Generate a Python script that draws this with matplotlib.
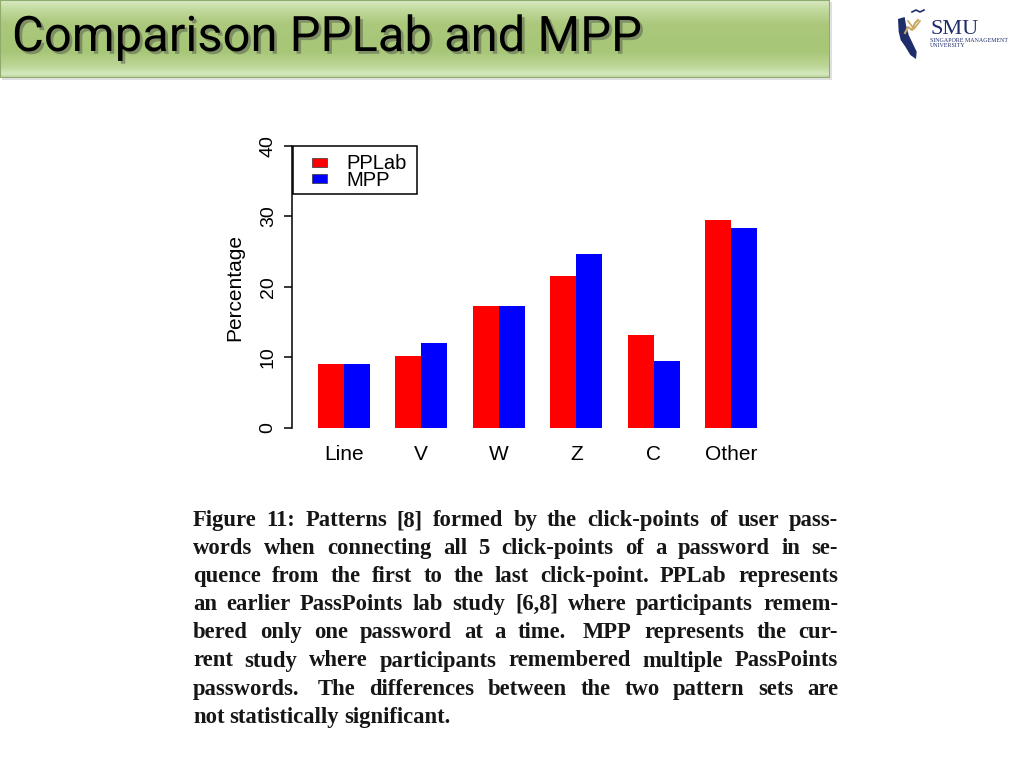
import re

import numpy as np
import matplotlib
matplotlib.use("Agg")
from matplotlib import pyplot as plt
from matplotlib import patheffects as pe
from matplotlib.patches import Rectangle, Polygon
from matplotlib.colors import LinearSegmentedColormap


# data
categories = ["Line", "V", "W", "Z", "C", "Other"]
pplab = [9.0, 10.2, 17.3, 21.5, 13.2, 29.5]
mpp = [9.0, 12.1, 17.3, 24.6, 9.5, 28.3]
y_ticks = [0, 10, 20, 30, 40]
series_names = ["PPLab", "MPP"]
series_colors = ["#ff0000", "#0000ff"]

title = "Comparison PPLab and MPP"
caption_lines = [
    "Figure 11: Patterns [8] formed by the click-points of user pass-",
    "words when connecting all 5 click-points of a password in se-",
    "quence from the first to the last click-point. PPLab represents",
    "an earlier PassPoints lab study [6,8] where participants remem-",
    "bered only one password at a time.  MPP represents the cur-",
    "rent study where participants remembered multiple PassPoints",
    "passwords.  The differences between the two pattern sets are",
    "not statistically significant.",
]

W, H = 1024, 768


def fx(px):
    return px / W


def fy(py):
    return 1 - py / H


def box(l, t, r, b):
    return [l / W, 1 - b / H, (r - l) / W, (b - t) / H]


def px_rect(l, t, r, b, **kw):
    fig.add_artist(Rectangle((fx(l), fy(b)), (r - l) / W, (b - t) / H,
                             transform=fig.transFigure, **kw))


plt.rcParams["font.family"] = ["Liberation Sans", "DejaVu Sans"]
fig = plt.figure(figsize=(10.24, 7.68), dpi=100)
renderer = fig.canvas.get_renderer()

# ---- title banner ----
px_rect(2, 2, 832, 80, facecolor="#9a9a9a", edgecolor="none", alpha=0.3, zorder=-2)
tax = fig.add_axes(box(0, 0, 830, 78))
grad = LinearSegmentedColormap.from_list("banner", [
    (0.0, "#d9e9c3"), (0.12, "#c2da9e"), (0.3, "#abc87c"),
    (0.65, "#a7c676"), (0.85, "#bcd697"), (0.95, "#d5e8be"), (1.0, "#b9d29a")])
tax.imshow(np.linspace(0, 1, 200).reshape(-1, 1), cmap=grad, aspect="auto")
tax.set_axis_off()
tax.add_patch(Rectangle((0, 0), 1, 1, transform=tax.transAxes, fill=False,
                        edgecolor="#8fac6c", lw=1.5))

t = fig.text(fx(12), fy(51), title, fontsize=36, family="Roboto", va="baseline",
             color="black", zorder=5,
             path_effects=[pe.withSimplePatchShadow(offset=(2, -2),
                                                    shadow_rgbFace="#4a4a4a",
                                                    alpha=0.45)])
tw = t.get_window_extent(renderer).width
t.set_fontsize(36 * 630 / tw)

# ---- SMU logo ----
lax = fig.add_axes(box(890, 5, 1015, 65))
lax.set_xlim(0, 125)
lax.set_ylim(60, 0)
lax.set_axis_off()
zx = np.array([18, 38, 42, 50, 62, 74, 72, 55, 40, 26, 20]) / 3
zy = np.array([42, 36, 60, 90, 115, 140, 162, 150, 125, 105, 80]) / 3
lax.add_patch(Polygon(np.column_stack([zx + 2, zy]), closed=True,
                      facecolor="#1f2d6b", edgecolor="none"))
lax.plot([15, 18, 22, 25, 28], [28, 22, 25, 18, 15], color="#c8a860", lw=1.5)
lax.plot([18, 24, 30], [16, 24, 16], color="#c8a860", lw=1.2)
lax.plot([22, 26, 30, 34], [7, 5, 7, 5], color="#1f2d6b", lw=1.2)
lax.text(40, 29.5, "SMU", family="Liberation Serif", fontsize=16,
         color="#1f2d6b", va="baseline")
lax.text(40, 37.5, "SINGAPORE MANAGEMENT", family="Liberation Serif",
         fontsize=4.3, color="#1f2d6b", va="baseline")
lax.text(40, 42.2, "UNIVERSITY", family="Liberation Serif",
         fontsize=4.3, color="#1f2d6b", va="baseline")

# ---- bar chart ----
ax = fig.add_axes(box(292, 145.7, 783, 428))
x = np.arange(len(categories))
left_red = 1 + 3 * x  # R barplot(beside=TRUE) layout: gap 1, two bars of width 1
ax.bar(left_red + 0.5, pplab, width=1, color=series_colors[0], linewidth=0)
ax.bar(left_red + 1.5, mpp, width=1, color=series_colors[1], linewidth=0)
ax.set_xlim(0.0, 19.0)
ax.set_ylim(0, 40)
for s in ["top", "right", "bottom"]:
    ax.spines[s].set_visible(False)
ax.spines["left"].set_linewidth(1.1)
ax.set_yticks(y_ticks)
ax.set_yticklabels([str(v) for v in y_ticks], rotation=90, va="center")
ax.tick_params(axis="y", length=6, width=1.1, pad=5, labelsize=14)
ax.set_xticks(left_red + 1)
ax.set_xticklabels(categories)
ax.tick_params(axis="x", length=0, pad=12.5, labelsize=15)

fig.text(fx(235), fy(287), "Percentage", rotation=90, ha="center", va="center",
         fontsize=15)

# legend (R style box in the top-left corner)
px_rect(293, 145.7, 417, 194.3, fill=False, edgecolor="black", lw=1.1, zorder=5)
for i, (name, col) in enumerate(zip(series_names, series_colors)):
    top = 158 + i * 16
    px_rect(311.7, top, 327.3, top + 8.7, facecolor=col, edgecolor="#333333",
            lw=0.5, zorder=5)
    fig.text(fx(346), fy(169 + i * 16.5), name, fontsize=14.5, va="baseline", zorder=5)

# ---- justified caption ----
cap_left, cap_right = 193, 838
base0, gap = 526, 28.1
base_fs = 15.0
cap_style = dict(family="Liberation Serif", fontweight="bold",
                 color="#161616", va="baseline")

# measure words at the base size, then grow the font as far as the tightest line allows
split_lines = []
for line in caption_lines:
    pieces = re.split(r"( +)", line)
    words = pieces[0::2]
    weights = [1 + 0.4 * (len(sp) - 1) for sp in pieces[1::2]]
    arts = [fig.text(0, 0, w, fontsize=base_fs, **cap_style) for w in words]
    widths = [a.get_window_extent(renderer).width for a in arts]
    split_lines.append((arts, widths, weights))

min_gap = 4.5
scale = 16.3 / base_fs
for arts, widths, weights in split_lines[:-1]:
    scale = min(scale, (cap_right - cap_left - min_gap * sum(weights)) / sum(widths))
fs = base_fs * scale

for i, (arts, widths, weights) in enumerate(split_lines):
    yb = fy(base0 + i * gap)
    widths = [w * scale for w in widths]
    if i == len(split_lines) - 1:
        unit = min_gap + 0.5
    else:
        unit = (cap_right - cap_left - sum(widths)) / sum(weights)
    xpos = cap_left
    for j, a in enumerate(arts):
        a.set_fontsize(fs)
        a.set_position((fx(xpos), yb))
        xpos += widths[j]
        if j < len(weights):
            xpos += unit * weights[j]

fig.savefig("out.png", dpi=100, facecolor="white")
